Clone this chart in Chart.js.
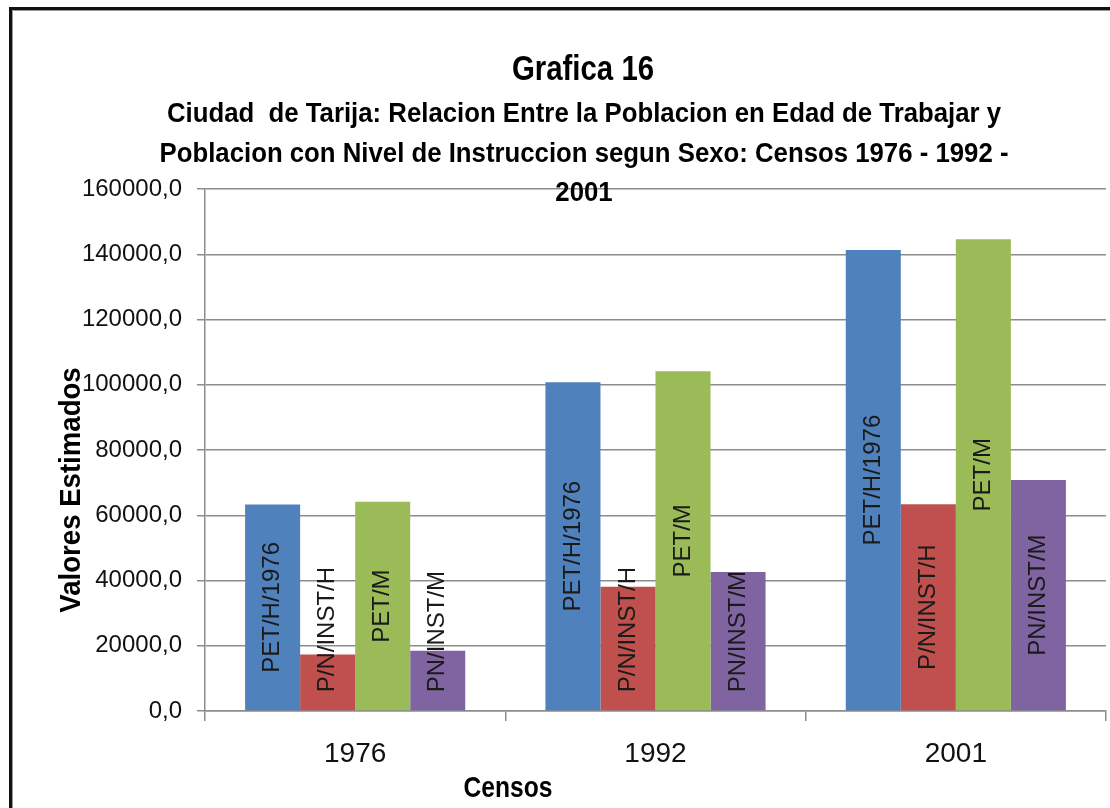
<!DOCTYPE html>
<html>
<head>
<meta charset="utf-8">
<title>Grafica 16</title>
<script src="https://cdn.jsdelivr.net/npm/chart.js@4"></script>
<style>
  html, body { margin: 0; padding: 0; background: #fff; }
  #wrap { position: relative; width: 1110px; height: 808px; overflow: hidden; }
  #frame {
    position: absolute; left: 9px; top: 7px; width: 1150px; height: 900px;
    border: 3px solid #111; box-shadow: inset 1px 1px 0 #9a9a9a;
  }
  #chart { position: absolute; left: 0; top: 0; }
</style>
</head>
<body>
<div id="wrap">
  <div id="frame"></div>
  <canvas id="chart" width="1110" height="808"></canvas>
</div>
<script>
const censos = ["1976", "1992", "2001"];
const seriesNames = ["PET/H/1976", "P/N/INST/H", "PET/M", "PN/INST/M"];
const petH = [63300, 100800, 141300];
const pnInstH = [17300, 38100, 63400];
const petM = [64100, 104100, 144600];
const pnInstM = [18500, 42600, 70800];
const colors = ["#4F81BD", "#C0504D", "#9BBB59", "#8064A2"];

const title = "Grafica 16";
const subtitle = [
  "Ciudad  de Tarija: Relacion Entre la Poblacion en Edad de Trabajar y",
  "Poblacion con Nivel de Instruccion segun Sexo: Censos 1976 - 1992 -",
  "2001"
];
const yTitle = "Valores Estimados";
const xTitle = "Censos";

const sans = "'Liberation Sans', Arial, sans-serif";
const fmt = v => Number(v).toFixed(1).replace(".", ",");

// the original uses Calibri, which is narrower: squeeze the text a bit
function squeezed(ctx, text, x, y, factor) {
  const w = ctx.measureText(text).width;
  ctx.fillText(text, x, y, w * factor);
}

// titles are placed by hand, like the excel original (they overlap the plot)
const titleBlock = {
  id: "titleBlock",
  afterDraw(chart) {
    const ctx = chart.ctx;
    ctx.save();
    ctx.fillStyle = "#000";
    ctx.textAlign = "center";
    ctx.textBaseline = "alphabetic";
    ctx.font = "bold 35px " + sans;
    squeezed(ctx, title, 583, 80, 0.84);
    ctx.font = "bold 28px " + sans;
    subtitle.forEach((line, i) => squeezed(ctx, line, 584, 122 + i * 39.5, 0.92));

    ctx.font = "bold 30px " + sans;
    squeezed(ctx, xTitle, 508, 797, 0.82);
    ctx.translate(80, 490);
    ctx.rotate(-Math.PI / 2);
    squeezed(ctx, yTitle, 0, 0, 0.92);
    ctx.restore();
  }
};

// series name written up the middle of each bar
const barLabels = {
  id: "barLabels",
  afterDatasetsDraw(chart) {
    const ctx = chart.ctx;
    ctx.save();
    ctx.font = "24px " + sans;
    ctx.fillStyle = "#1a1a1a";
    ctx.textAlign = "center";
    ctx.textBaseline = "middle";
    chart.data.datasets.forEach((ds, i) => {
      const w = ctx.measureText(ds.label).width;
      chart.getDatasetMeta(i).data.forEach(bar => {
        let cy = (bar.y + bar.base) / 2;
        cy = Math.min(cy, bar.base - 18 - w / 2);
        ctx.save();
        ctx.translate(bar.x, cy);
        ctx.rotate(-Math.PI / 2);
        ctx.fillText(ds.label, 0, 0);
        ctx.restore();
      });
    });
    ctx.restore();
  }
};

const series = [petH, pnInstH, petM, pnInstM];

new Chart(document.getElementById("chart"), {
  type: "bar",
  data: {
    labels: censos,
    datasets: series.map((values, i) => ({
      label: seriesNames[i],
      data: values,
      backgroundColor: colors[i],
      borderWidth: 0,
      categoryPercentage: 0.733,
      barPercentage: 1.0
    }))
  },
  options: {
    responsive: false,
    animation: false,
    layout: { padding: { top: 189, right: 4, bottom: 0, left: 0 } },
    plugins: {
      legend: { display: false },
      tooltip: { enabled: false }
    },
    scales: {
      x: {
        grid: {
          offset: true,
          drawOnChartArea: false,
          tickLength: 10,
          color: "#8c8c8c",
          lineWidth: 1.5
        },
        border: { color: "#8c8c8c", width: 1.5 },
        ticks: {
          color: "#111",
          font: { family: sans, size: 28 },
          padding: 16
        },
        afterFit: s => { s.height = 97; }
      },
      y: {
        min: 0,
        max: 160000,
        ticks: {
          stepSize: 20000,
          color: "#111",
          font: { family: sans, size: 24 },
          padding: 15,
          callback: v => fmt(v)
        },
        grid: { color: "#8c8c8c", lineWidth: 1.5, tickLength: 8 },
        border: { color: "#8c8c8c", width: 1.5 },
        afterFit: s => { s.width = 205; }
      }
    }
  },
  plugins: [barLabels, titleBlock]
});
</script>
</body>
</html>
